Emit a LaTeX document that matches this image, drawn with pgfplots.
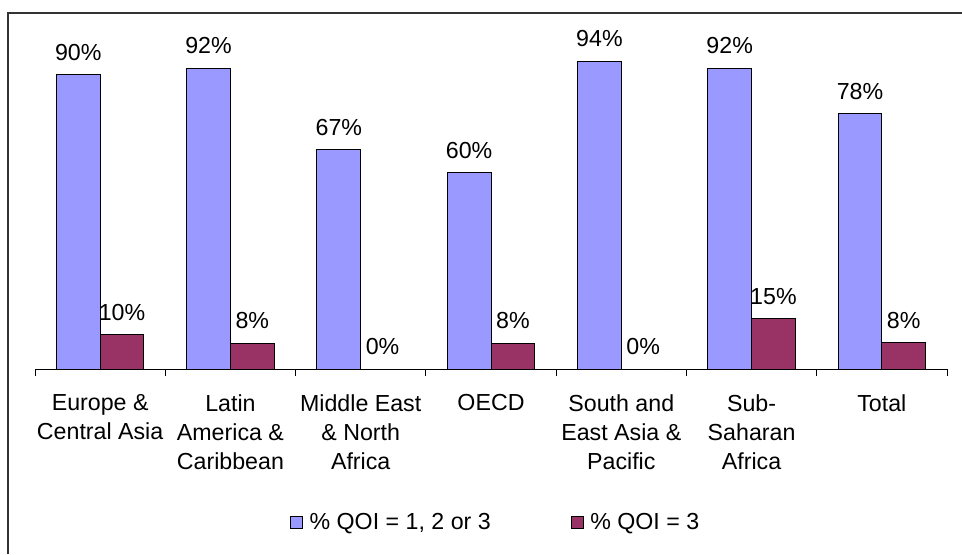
\documentclass[border=0pt]{standalone}
\usepackage{fontspec}
\setmainfont{Liberation Sans}
\usepackage{pgfplots}
\pgfplotsset{compat=1.18}
\definecolor{qblue}{HTML}{9999FF}
\definecolor{qred}{HTML}{993366}
\begin{document}
\begin{tikzpicture}[x=0.75pt,y=0.75pt,font=\fontsize{17.4}{21.75}\selectfont]
\path[use as bounding box] (0,0) rectangle (962,554);
\draw[line width=1pt, black!80] (8,0) -- (8,541) -- (962,541);
\begin{axis}[
 at={(26.25pt,138.75pt)}, anchor=south west,
 scale only axis, width=684pt, height=245.25pt,
 xmin=-0.5, xmax=6.5, ymin=0, ymax=100,
 enlargelimits=false, clip=false,
 axis x line*=bottom, axis y line=none,
 x axis line style={black, line width=0.75pt, -},
 ybar=0pt, bar width=32.8pt,
 xtick={0,...,6},
 xticklabels={{Europe \&\\Central Asia},{Latin\\America \&\\Caribbean},{Middle East\\\& North\\Africa},{OECD},{South and\\East Asia \&\\Pacific},{Sub-\\Saharan\\Africa},{Total}},
 major tick length=0pt,
 extra x ticks={-0.5,0.5,...,6.5}, extra x tick labels={},
 extra x tick style={major tick length=5.25pt, tick align=outside, tick style={black,line width=0.75pt}},
 xticklabel style={align=center, anchor=north, inner sep=0pt, yshift=-18.9pt},
 /pgf/number format/assume math mode=true,
 nodes near coords={\pgfmathprintnumber[fixed,precision=0]{\pgfplotspointmeta}\%},
 every node near coord/.append style={anchor=base, yshift=11pt, inner sep=0pt, black},
 legend style={at={(0.5055,-0.469)}, anchor=center, draw=none, fill=none, legend columns=2,
   /tikz/every even column/.append style={column sep=58pt}},
 legend image code/.code={\draw[#1, line width=0.6pt] (0pt,-4.5pt) rectangle (9pt,4.5pt);},
]
\addplot[fill=qblue, draw=black, line width=0.75pt] coordinates {(0,90) (1,92) (2,67) (3,60) (4,94) (5,92) (6,78)};
\addlegendentry{\hspace{3pt}\% QOI = 1, 2 or 3}
\addplot[fill=qred, draw=black, line width=0.75pt] coordinates {(0,10.4) (1,7.9) (2,0) (3,7.9) (4,0) (5,15.3) (6,8)};
\addlegendentry{\hspace{3pt}\% QOI = 3}
\end{axis}
\end{tikzpicture}
\end{document}
